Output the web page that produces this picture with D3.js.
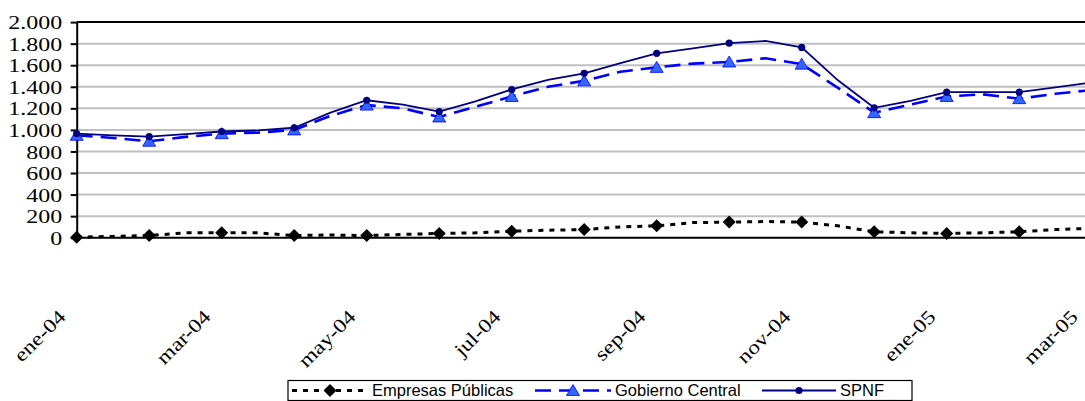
<!DOCTYPE html>
<html><head><meta charset="utf-8">
<script src="https://cdn.jsdelivr.net/npm/d3@7"></script>
<style>body{margin:0;background:#fff}svg{display:block}</style>
</head><body>
<svg id="c" width="1085" height="401"></svg>
<script>
// ---- data ----
const months = ["ene-04","feb-04","mar-04","abr-04","may-04","jun-04","jul-04","ago-04","sep-04","oct-04","nov-04","dic-04","ene-05","feb-05","mar-05"];
const xTickLabels = ["ene-04","mar-04","may-04","jul-04","sep-04","nov-04","ene-05","mar-05"];
const yTicks = [0,200,400,600,800,1000,1200,1400,1600,1800,2000];
const yTickLabels = ["0","200","400","600","800","1.000","1.200","1.400","1.600","1.800","2.000"];
const seriesNames = ["Empresas Públicas","Gobierno Central","SPNF"];
// monthly values (marker points)
const empresas = [5,20,45,20,20,40,60,75,110,145,145,55,40,55,87];
const gobierno = [950,895,965,1000,1230,1120,1310,1455,1580,1630,1610,1160,1310,1290,1370];
const spnf     = [965,937,985,1020,1275,1170,1375,1525,1710,1805,1765,1205,1350,1350,1440];
// mid-month values (line points between markers)
const empresasMid = [12,45,45,25,30,45,70,100,140,150,110,45,45,75];
const gobiernoMid = [925,935,975,1130,1200,1215,1400,1540,1615,1665,1390,1235,1330,1335];
const spnfMid     = [950,960,995,1160,1235,1265,1465,1620,1757,1825,1460,1270,1350,1395];

// ---- chart ----
const W = 1085, H = 401;
const svg = d3.select("#c");
svg.append("rect").attr("width",W).attr("height",H).attr("fill","#fff");
const x = d3.scaleLinear().domain([0, months.length-1]).range([76.7, 1091.7]);
const y = d3.scaleLinear().domain([0, 2000]).range([237.7, 22.1]);

// gridlines
svg.append("g").selectAll("line").data(yTicks.filter(d => d > 0 && d < 2000)).join("line")
  .attr("x1", x(0)).attr("x2", W).attr("y1", d => y(d)).attr("y2", d => y(d))
  .attr("stroke", "#c0c0c0").attr("stroke-width", 2);
// top border
svg.append("line").attr("x1", x(0)).attr("x2", W).attr("y1", y(2000)).attr("y2", y(2000))
  .attr("stroke", "#000").attr("stroke-width", 2);

// y axis
const yAxis = svg.append("g").attr("transform", `translate(${x(0)},0)`)
  .call(d3.axisLeft(y).tickValues(yTicks).tickSize(6).tickSizeOuter(0)
    .tickFormat((d, i) => yTickLabels[i]));
yAxis.select(".domain").attr("stroke", "#000").attr("stroke-width", 2);
yAxis.selectAll(".tick line").attr("stroke", "#000").attr("stroke-width", 2);
yAxis.selectAll(".tick text")
  .attr("x", 0).attr("dy", "0.34em")
  .attr("transform", "translate(-14.5,0) scale(1.23,1)")
  .attr("font-family", "'Liberation Serif', 'Times New Roman', serif")
  .attr("font-size", "19.5px").attr("fill", "#000");

// x axis line
svg.append("line").attr("x1", x(0)).attr("x2", W).attr("y1", y(0)).attr("y2", y(0))
  .attr("stroke", "#000").attr("stroke-width", 2);

// x labels
svg.append("g").selectAll("text").data(xTickLabels).join("text")
  .attr("transform", d => `translate(${Math.min(x(months.indexOf(d)) - 10, W - 6)},318) rotate(-45) scale(1.2,1)`)
  .attr("text-anchor", "end")
  .attr("font-family", "'Liberation Serif', 'Times New Roman', serif")
  .attr("font-size", "19.5px").attr("fill", "#000")
  .text(d => d);

// build line data
function buildLine(vals, mids) {
  const pts = [];
  vals.forEach((v, i) => {
    pts.push([i, v]);
    if (i < mids.length) pts.push([i + 0.5, mids[i]]);
  });
  return pts;
}
const lineGen = d3.line().x(d => x(d[0])).y(d => y(d[1]));

const styles = [
  {vals: empresas, mids: empresasMid, stroke: "#000", width: 3, dash: "5,6"},
  {vals: gobierno, mids: gobiernoMid, stroke: "#0000ff", width: 2.6, dash: "16,8"},
  {vals: spnf, mids: spnfMid, stroke: "#000080", width: 1.8, dash: null}
];
styles.forEach(s => {
  svg.append("path").datum(buildLine(s.vals, s.mids))
    .attr("d", lineGen).attr("fill", "none")
    .attr("stroke", s.stroke).attr("stroke-width", s.width)
    .attr("stroke-dasharray", s.dash);
});

const diamond = "M0,-6.5L6.5,0L0,6.5L-6.5,0Z";
const triangle = "M0,-6L6.5,5L-6.5,5Z";

svg.append("g").selectAll("path").data(empresas).join("path")
  .attr("d", diamond).attr("transform", (d, i) => `translate(${x(i)},${y(d)})`)
  .attr("fill", "#000");
svg.append("g").selectAll("path").data(gobierno).join("path")
  .attr("d", triangle).attr("transform", (d, i) => `translate(${x(i)},${y(d)})`)
  .attr("fill", "#3366ff").attr("stroke", "#0000ff").attr("stroke-width", 0.8);
svg.append("g").selectAll("circle").data(spnf).join("circle")
  .attr("cx", (d, i) => x(i)).attr("cy", d => y(d)).attr("r", 3.6)
  .attr("fill", "#000080");

// legend
const lg = svg.append("g");
lg.append("rect").attr("x", 288).attr("y", 380.5).attr("width", 624).attr("height", 20)
  .attr("fill", "#fff").attr("stroke", "#000").attr("stroke-width", 1.2);
const ly = 390.5;
const items = [
  {name: seriesNames[0], x0: 292, x1: 368, stroke: "#000", width: 3, dash: "5,6", mark: "diamond", tx: 372},
  {name: seriesNames[1], x0: 535, x1: 611, stroke: "#0000ff", width: 2.6, dash: "16,8", mark: "triangle", tx: 615},
  {name: seriesNames[2], x0: 762, x1: 836, stroke: "#000080", width: 1.8, dash: null, mark: "circle", tx: 840}
];
items.forEach(it => {
  lg.append("line").attr("x1", it.x0).attr("x2", it.x1).attr("y1", ly).attr("y2", ly)
    .attr("stroke", it.stroke).attr("stroke-width", it.width).attr("stroke-dasharray", it.dash);
  const cx = (it.x0 + it.x1) / 2;
  if (it.mark === "diamond") lg.append("path").attr("d", diamond).attr("transform", `translate(${cx},${ly})`).attr("fill", "#000");
  if (it.mark === "triangle") lg.append("path").attr("d", triangle).attr("transform", `translate(${cx},${ly})`).attr("fill", "#3366ff").attr("stroke", "#0000ff").attr("stroke-width", 0.8);
  if (it.mark === "circle") lg.append("circle").attr("cx", cx).attr("cy", ly).attr("r", 3.6).attr("fill", "#000080");
  lg.append("text").attr("x", it.tx).attr("y", ly + 5.5)
    .attr("font-family", "'Liberation Sans', Arial, sans-serif").attr("font-size", "16.5px").attr("fill", "#000")
    .text(it.name);
});
</script>
</body></html>
